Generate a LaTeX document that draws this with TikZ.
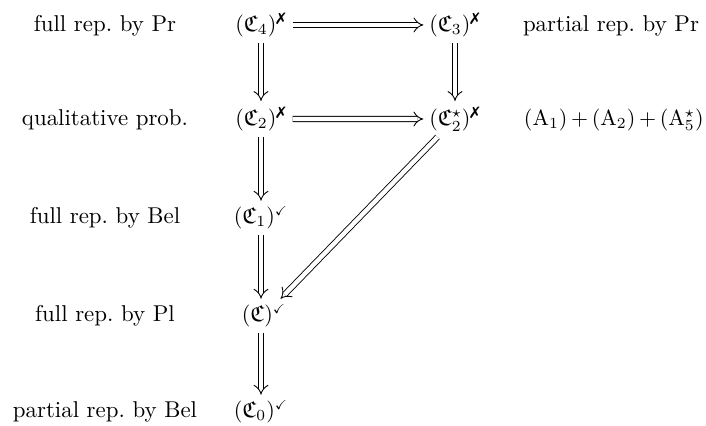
\documentclass[tikz,border=0pt]{standalone}
\usepackage{amsmath,amssymb}
\usepackage{pifont}
\usetikzlibrary{arrows.meta}
\newcommand{\nox}{\text{\ding{55}}}
\newcommand{\yesv}{\text{\scalebox{0.8}{$\checkmark$}}}
\begin{document}
\begin{tikzpicture}[x=0.4545pt,y=-0.4545pt,
  every node/.style={font=\fontsize{10.4}{12}\selectfont},
  lbl/.style={anchor=base,inner sep=0pt},
  st/.style={anchor=base,inner sep=2.5pt},
  imp/.style={draw,double,double distance=2pt,line width=0.4pt,-{Implies}}]
\useasboundingbox (0,0) rectangle (706,426);
% left labels
\node[lbl] (l4) at (105,31.5) {full rep.\ by Pr};
\node[lbl] (l2) at (105,125.5) {qualitative prob.};
\node[lbl] (l1) at (105,223.5) {full rep.\ by Bel};
\node[lbl] (lc) at (105,321.5) {full rep.\ by Pl};
\node[lbl] (l0) at (105,417.5) {partial rep.\ by Bel};
% right labels
\node[lbl] (r3) at (611,31.5) {partial rep.\ by Pr};
\node[lbl,anchor=base east,font=\fontsize{10}{12}\selectfont] (r2) at (704,125.5) {\medmuskip=3mu $(\mathrm{A}_1) + (\mathrm{A}_2) + (\mathrm{A}_5^\star)$};
% statements
\node[st] (c4) at (261,31.5) {$(\mathfrak{C}_4)^{\nox}$};
\node[st] (c3) at (455,31.5) {$(\mathfrak{C}_3)^{\nox}$};
\node[st] (c2) at (261,125.5) {$(\mathfrak{C}_2)^{\nox}$};
\node[st] (c2s) at (455,125.5) {$(\mathfrak{C}_2^\star)^{\nox}$};
\node[st] (c1) at (261,223.5) {$(\mathfrak{C}_1)^{\yesv}$};
\node[st] (c) at (264,321.5) {$(\mathfrak{C})^{\yesv}$};
\node[st] (c0) at (261,417.5) {$(\mathfrak{C}_0)^{\yesv}$};
% arrows
\draw[imp] (c4) -- (c3);
\draw[imp] (c2) -- (c2s);
\draw[imp] (c4.south -| c4) -- (c2.north -| c4);
\draw[imp] (c3.south -| c3) -- (c2s.north -| c3);
\draw[imp] (c2.south -| c2) -- (c1.north -| c2);
\draw[imp] (c1.south -| c1) -- (c.north -| c1);
\draw[imp] (c.south -| c1) -- (c0.north -| c1);
\draw[imp] (c2s) -- (c);
\end{tikzpicture}
\end{document}
